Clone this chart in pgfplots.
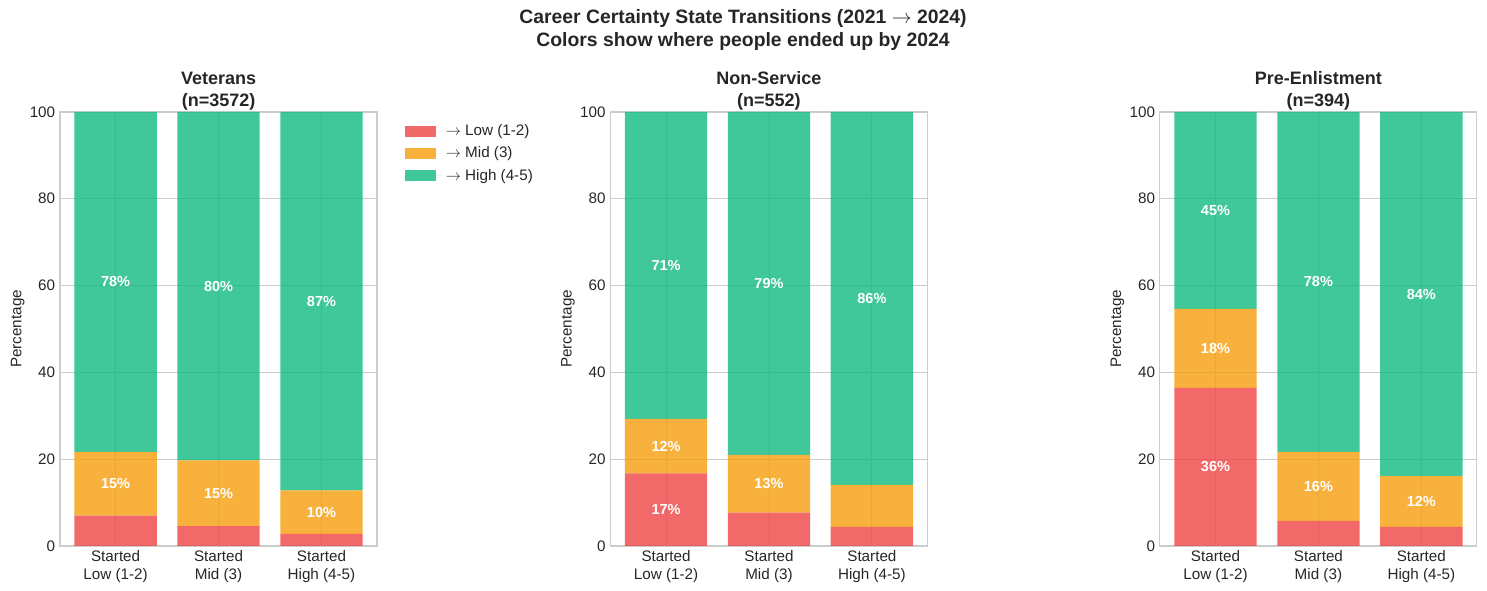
\documentclass[border=0pt]{standalone}
\usepackage{pgfplots}
\pgfplotsset{compat=1.18}
\usepackage{fontspec}
\setmainfont{Liberation Sans}
\newcommand{\arr}{$\rightarrow$}
\definecolor{cLow}{HTML}{EF4444}
\definecolor{cMid}{HTML}{F59E0B}
\definecolor{cHigh}{HTML}{10B981}
\definecolor{gridc}{HTML}{CCCCCC}
\definecolor{txt}{HTML}{262626}

\pgfplotsset{
 panel/.style={
  scale only axis, width=229.1pt, height=313.7pt,
  ybar stacked, bar width=0.8,
  xmin=-0.54, xmax=2.54, ymin=0, ymax=100,
  xtick={0,1,2},
  xticklabels={Started\\Low (1-2), Started\\Mid (3), Started\\High (4-5)},
  xticklabel style={align=center, font=\fontsize{11}{12.5}\selectfont, text=txt},
  ytick={0,20,40,60,80,100},
  yticklabel style={font=\fontsize{11}{13}\selectfont, text=txt},
  /pgf/number format/assume math mode=true,
  grid=major, major grid style={draw=gridc, line width=0.6pt},
  axis line style={draw=gridc, line width=0.8pt},
  major tick length=0pt,
  ylabel={Percentage},
  ylabel style={font=\fontsize{11}{13}\selectfont, text=txt, yshift=-3pt},
  title style={font=\bfseries\fontsize{13}{15.5}\selectfont, align=center, text=txt, yshift=-8pt},
  every axis plot/.append style={draw=none, fill opacity=0.8},
 },
}
\tikzset{lbl/.style={text=white, font=\bfseries\fontsize{10.5}{12}\selectfont, anchor=center}}

\begin{document}
\begin{tikzpicture}
\useasboundingbox (0,0) rectangle (1074.7pt,427.1pt);

\node[align=center, font=\bfseries\fontsize{14}{16.3}\selectfont, text=txt] at (537pt,405.5pt)
  {Career Certainty State Transitions (2021 \arr\ 2024)\\Colors show where people ended up by 2024};

% Veterans
\begin{axis}[panel, at={(43.4pt,32.5pt)}, anchor=south west,
  title={Veterans\\(n=3572)},
  legend style={at={(1,1)}, anchor=north west, xshift=17pt, yshift=-5pt, draw=none, fill=none,
    font=\fontsize{11}{13}\selectfont, text=txt, row sep=2.6pt},
  legend cell align=left,
  legend image code/.code={\fill[fill opacity=0.8] (0pt,-3.9pt) rectangle (22.4pt,3.9pt);
     \path (0pt,0pt) -- (27.5pt,0pt);},
]
\addplot[fill=cLow] coordinates {(0,7.0) (1,4.6) (2,2.8)};
\addplot[fill=cMid] coordinates {(0,14.7) (1,15.1) (2,10.0)};
\addplot[fill=cHigh] coordinates {(0,78.3) (1,80.3) (2,87.2)};
\legend{\arr\ Low (1-2), \arr\ Mid (3), \arr\ High (4-5)}
\coordinate (a1) at (axis cs:0,60.85);
\coordinate (a2) at (axis cs:1,59.85);
\coordinate (a3) at (axis cs:2,56.4);
\coordinate (a4) at (axis cs:0,14.35);
\coordinate (a5) at (axis cs:1,12.15);
\coordinate (a6) at (axis cs:2,7.8);
\end{axis}
\node[lbl] at (a1) {78\%};
\node[lbl] at (a2) {80\%};
\node[lbl] at (a3) {87\%};
\node[lbl] at (a4) {15\%};
\node[lbl] at (a5) {15\%};
\node[lbl] at (a6) {10\%};

% Non-Service
\begin{axis}[panel, at={(441.2pt,32.5pt)}, anchor=south west,
  title={Non-Service\\(n=552)}]
\addplot[fill=cLow] coordinates {(0,16.7) (1,7.7) (2,4.4)};
\addplot[fill=cMid] coordinates {(0,12.6) (1,13.3) (2,9.7)};
\addplot[fill=cHigh] coordinates {(0,70.7) (1,79.0) (2,85.9)};
\coordinate (b1) at (axis cs:0,64.65);
\coordinate (b2) at (axis cs:1,60.5);
\coordinate (b3) at (axis cs:2,57.05);
\coordinate (b4) at (axis cs:0,23.0);
\coordinate (b5) at (axis cs:1,14.35);
\coordinate (b6) at (axis cs:0,8.35);
\end{axis}
\node[lbl] at (b1) {71\%};
\node[lbl] at (b2) {79\%};
\node[lbl] at (b3) {86\%};
\node[lbl] at (b4) {12\%};
\node[lbl] at (b5) {13\%};
\node[lbl] at (b6) {17\%};

% Pre-Enlistment
\begin{axis}[panel, at={(838.3pt,32.5pt)}, anchor=south west,
  title={Pre-Enlistment\\(n=394)}]
\addplot[fill=cLow] coordinates {(0,36.4) (1,5.8) (2,4.4)};
\addplot[fill=cMid] coordinates {(0,18.2) (1,15.9) (2,11.7)};
\addplot[fill=cHigh] coordinates {(0,45.4) (1,78.3) (2,83.9)};
\coordinate (c1) at (axis cs:0,77.3);
\coordinate (c2) at (axis cs:1,60.85);
\coordinate (c3) at (axis cs:2,58.05);
\coordinate (c4) at (axis cs:0,18.2);
\coordinate (c5) at (axis cs:0,45.5);
\coordinate (c6) at (axis cs:1,13.75);
\coordinate (c7) at (axis cs:2,10.25);
\end{axis}
\node[lbl] at (c1) {45\%};
\node[lbl] at (c2) {78\%};
\node[lbl] at (c3) {84\%};
\node[lbl] at (c4) {36\%};
\node[lbl] at (c5) {18\%};
\node[lbl] at (c6) {16\%};
\node[lbl] at (c7) {12\%};
\end{tikzpicture}
\end{document}
